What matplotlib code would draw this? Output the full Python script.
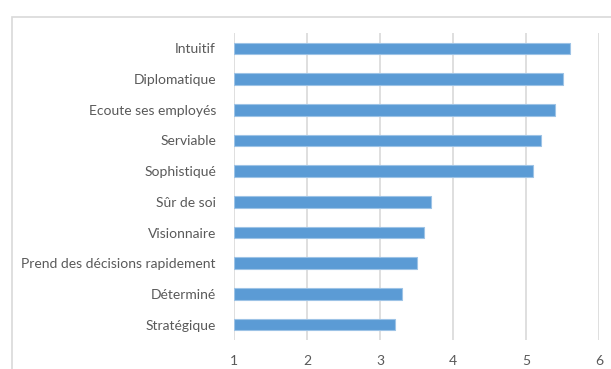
import matplotlib.pyplot as plt
from matplotlib.patches import Rectangle

# Qualités, du bas vers le haut du graphique
qualites = ["Stratégique", "Déterminé", "Prend des décisions rapidement",
            "Visionnaire", "Sûr de soi", "Sophistiqué", "Serviable",
            "Ecoute ses employés", "Diplomatique", "Intuitif"]
scores = [3.2, 3.3, 3.5, 3.6, 3.7, 5.1, 5.2, 5.4, 5.5, 5.6]
graduations = [1, 2, 3, 4, 5, 6]

plt.rcParams['font.family'] = ['Lato', 'DejaVu Sans']

fig = plt.figure(figsize=(6.11, 3.69), dpi=100)
W, H = 611, 369
ax = fig.add_axes([234 / W, (H - 340) / H, (599 - 234) / W, (340 - 33) / H])

# cadre gris clair autour du graphique
fig.patches.append(Rectangle((12 / W, -0.2), 1.2, 1.2 - 17 / H,
                             transform=fig.transFigure, fill=False,
                             edgecolor='#d9d9d9', linewidth=1.2))

pos = range(len(qualites))
ax.barh(pos, [s - 1 for s in scores], left=1, height=0.38,
        color='#5b9bd5', edgecolor='#9dc3e6', linewidth=0.8, zorder=3)

ax.set_xlim(1, 6)
ax.set_ylim(-0.5, len(qualites) - 0.5)
ax.set_xticks(graduations)
ax.set_yticks(list(pos))
ax.set_yticklabels(qualites)
ax.grid(axis='x', color='#d9d9d9', linewidth=1.2, zorder=0)
for s in ax.spines.values():
    s.set_visible(False)
ax.tick_params(axis='y', length=0, pad=13, labelsize=10, labelcolor='#595959')
ax.tick_params(axis='x', length=0, pad=11, labelsize=10, labelcolor='#595959')

fig.savefig('out.png', dpi=100)
